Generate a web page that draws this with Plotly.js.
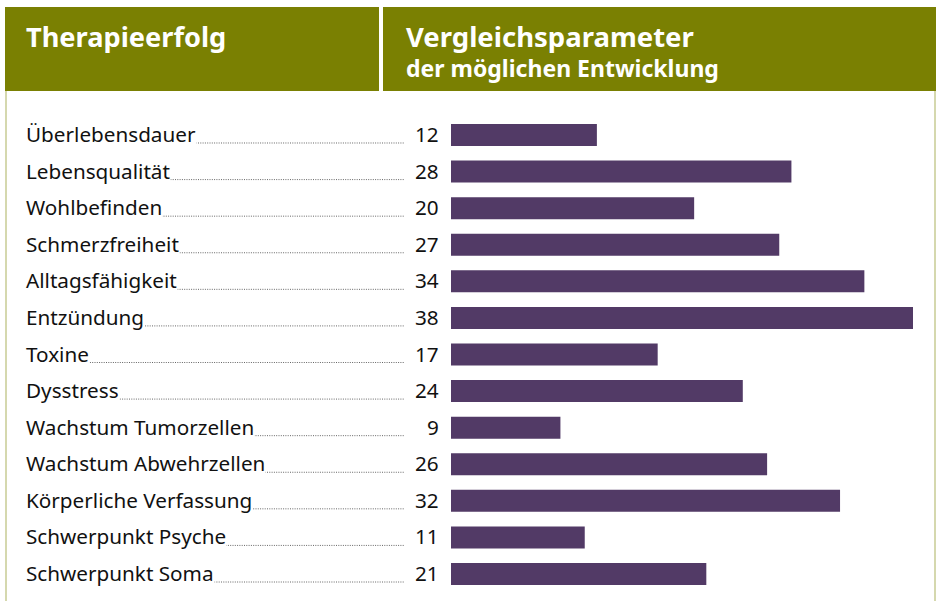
<!DOCTYPE html>
<html>
<head>
<meta charset="utf-8">
<script src="https://cdn.plot.ly/plotly-3.0.1.min.js"></script>
<style>html,body{margin:0;padding:0;background:#fff;}#chart{width:940px;height:601px;}</style>
</head>
<body>
<div id="chart"></div>
<script>
const categories = ["Überlebensdauer","Lebensqualität","Wohlbefinden","Schmerzfreiheit","Alltagsfähigkeit","Entzündung","Toxine","Dysstress","Wachstum Tumorzellen","Wachstum Abwehrzellen","Körperliche Verfassung","Schwerpunkt Psyche","Schwerpunkt Soma"];
const values = [12,28,20,27,34,38,17,24,9,26,32,11,21];
const titleLeft = "Therapieerfolg";
const titleRight = "Vergleichsparameter";
const subtitleRight = "der möglichen Entwicklung";

const W = 940, H = 601;
const px = x => x / W;
const py = y => 1 - y / H;
const OLIVE = "#7a8002";
const BAR = "#523a66";
const FONT = "Noto Sans, sans-serif";

const shapes = [
  {type:"rect", xref:"paper", yref:"paper", x0:px(5), x1:px(379), y0:py(7), y1:py(91), fillcolor:OLIVE, line:{width:0}, layer:"below"},
  {type:"rect", xref:"paper", yref:"paper", x0:px(383), x1:px(936), y0:py(7), y1:py(91), fillcolor:OLIVE, line:{width:0}, layer:"below"},
  {type:"line", xref:"paper", yref:"paper", x0:px(6), x1:px(6), y0:py(91), y1:py(601), line:{color:"#d5d8ae", width:2}, layer:"below"},
  {type:"line", xref:"paper", yref:"paper", x0:px(935), x1:px(935), y0:py(91), y1:py(601), line:{color:"#d5d8ae", width:2}, layer:"below"}
];
const annotations = [
  {xref:"paper", yref:"paper", x:px(24), y:py(37), xanchor:"left", yanchor:"middle", text:"<b>"+titleLeft+"</b>", showarrow:false, font:{family:FONT, size:27.2, color:"#ffffff"}},
  {xref:"paper", yref:"paper", x:px(404), y:py(37), xanchor:"left", yanchor:"middle", text:"<b>"+titleRight+"</b>", showarrow:false, font:{family:FONT, size:27.5, color:"#ffffff"}},
  {xref:"paper", yref:"paper", x:px(404), y:py(68), xanchor:"left", yanchor:"middle", text:"<b>"+subtitleRight+"</b>", showarrow:false, font:{family:FONT, size:23, color:"#ffffff"}}
];
categories.forEach((c, i) => {
  shapes.push({type:"line", xref:"paper", yref:"y", ysizemode:"pixel", yanchor:i, y0:-8, y1:-8,
    x0:px(60), x1:px(404), line:{color:"#666", width:1, dash:"1px,1.3px"}, layer:"below"});
  annotations.push({xref:"paper", yref:"y", x:px(25), y:c, yshift:1, xanchor:"left", yanchor:"middle", text:c, showarrow:false,
    bgcolor:"#ffffff", borderpad:0, font:{family:FONT, size:20.7, color:"#111"}});
  annotations.push({xref:"paper", yref:"y", x:px(441), y:c, yshift:1, xanchor:"right", yanchor:"middle", text:String(values[i]), showarrow:false,
    bgcolor:"#ffffff", font:{family:FONT, size:20.7, color:"#111"}});
});

const trace = {type:"bar", orientation:"h", y:categories, x:values, marker:{color:BAR}, hoverinfo:"none"};
const layout = {
  width:W, height:H, margin:{l:0,r:0,t:0,b:0}, paper_bgcolor:"#fff", plot_bgcolor:"rgba(0,0,0,0)",
  showlegend:false, bargap:0.4,
  xaxis:{domain:[451/W, 913/W], range:[0,38], visible:false, fixedrange:true},
  yaxis:{domain:[1-592.3/H, 1-116.7/H], autorange:"reversed", visible:false, type:"category", fixedrange:true},
  shapes:shapes, annotations:annotations
};
Plotly.newPlot("chart", [trace], layout, {staticPlot:true, displayModeBar:false});
</script>
</body>
</html>
